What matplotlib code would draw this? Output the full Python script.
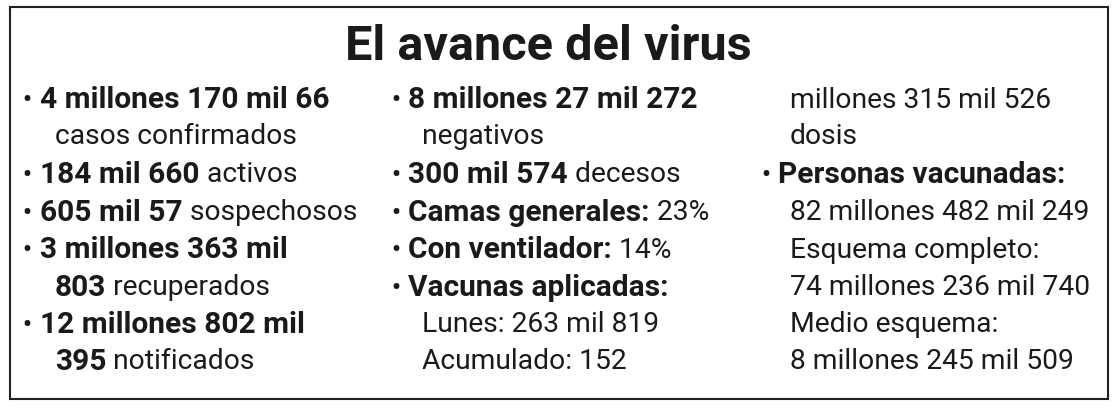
import matplotlib
matplotlib.use("Agg")
import matplotlib.pyplot as plt
from matplotlib.patches import Rectangle

title = "El avance del virus"
col1 = [
    (True, [("4 millones 170 mil 66", True)]),
    (False, [("casos confirmados", False)]),
    (True, [("184 mil 660", True), (" activos", False)]),
    (True, [("605 mil 57", True), (" sospechosos", False)]),
    (True, [("3 millones 363 mil", True)]),
    (False, [("803", True), (" recuperados", False)]),
    (True, [("12 millones 802 mil", True)]),
    (False, [("395", True), (" notificados", False)]),
]
col2 = [
    (True, [("8 millones 27 mil 272", True)]),
    (False, [("negativos", False)]),
    (True, [("300 mil 574", True), (" decesos", False)]),
    (True, [("Camas generales:", True), (" 23%", False)]),
    (True, [("Con ventilador:", True), (" 14%", False)]),
    (True, [("Vacunas aplicadas:", True)]),
    (False, [("Lunes: 263 mil 819", False)]),
    (False, [("Acumulado: 152", False)]),
]
col3 = [
    (False, [("millones 315 mil 526", False)]),
    (False, [("dosis", False)]),
    (True, [("Personas vacunadas:", True)]),
    (False, [("82 millones 482 mil 249", False)]),
    (False, [("Esquema completo:", False)]),
    (False, [("74 millones 236 mil 740", False)]),
    (False, [("Medio esquema:", False)]),
    (False, [("8 millones 245 mil 509", False)]),
]

W, H = 1117, 410
fig = plt.figure(figsize=(W/100, H/100), dpi=100)
ax = fig.add_axes([0, 0, 1, 1])
ax.set_xlim(0, W); ax.set_ylim(H, 0); ax.axis("off")
ax.add_patch(Rectangle((10, 8), 1098, 392, fill=False, lw=1.5, ec="#222222"))
FONT = "Roboto"
ax.text(548, 47, title, ha="center", va="center", fontsize=35, fontweight="bold",
        family=FONT, color="#1a1a1a")

fig.canvas.draw()
r = fig.canvas.get_renderer()
rows_y = [100, 137, 175, 213, 250, 288, 325, 362]
cols = [(col1, 27, 40, 55), (col2, 396, 408, 422), (col3, 766, 778, 790)]
for data, bx, tx, ix in cols:
    for (bullet, segs), y in zip(data, rows_y):
        if bullet:
            ax.text(bx, y, "•", ha="center", va="center", fontsize=18, family=FONT,
                    fontweight="bold", color="#1a1a1a")
            x = tx
        else:
            x = ix
        for s, b in segs:
            t = ax.text(x, y, s, ha="left", va="center",
                        fontsize=21.5 if b else 20.3, family=FONT,
                        fontweight="bold" if b else "normal", color="#1a1a1a")
            bb = t.get_window_extent(renderer=r)
            x += bb.width
fig.savefig("out.png", dpi=100)
